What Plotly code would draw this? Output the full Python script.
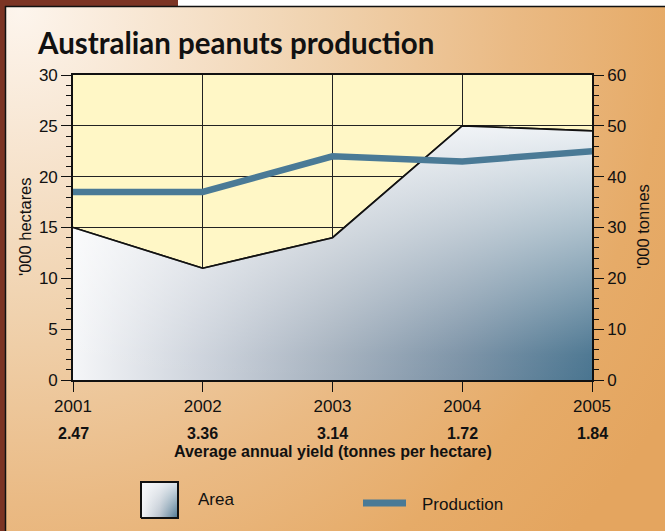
import base64
import plotly.graph_objects as go

# ---- data -------------------------------------------------------------
years = [2001, 2002, 2003, 2004, 2005]
area_kha = [15, 11, 14, 25, 24.5]          # '000 hectares (left axis)
production_kt = [37, 37, 44, 43, 45]       # '000 tonnes (right axis)
yield_labels = ["2.47", "3.36", "3.14", "1.72", "1.84"]
left_ticks = [0, 5, 10, 15, 20, 25, 30]
right_ticks = [0, 10, 20, 30, 40, 50, 60]

# ---- page geometry (pixels) ---------------------------------------------
W, H = 665, 531
PLOT_L, PLOT_R = 73, 592
PLOT_T, PLOT_B = 75, 380


def fx(px):
    return px / W


def fy(py):
    return 1 - py / H


FONT = "Liberation Sans, Arial, Helvetica, sans-serif"
TITLE_FONT = "Lato, Roboto, Liberation Sans, sans-serif"
LINE_BLUE = "#4a7a96"
AREA_SCALE = [[0, "#f5f6f8"], [0.25, "#cdd3dc"], [0.5, "#a6b2bf"],
              [0.75, "#7b92a6"], [1, "#4a7590"]]
HAZE_SCALE = [[0, "rgba(255,255,255,0)"], [0.1, "rgba(255,255,255,0.03)"],
              [0.32, "rgba(255,255,255,0.26)"], [0.6, "rgba(255,255,255,0.54)"],
              [1, "rgba(250,251,253,0.93)"]]

# warm radial backdrop for the whole page
bg_svg = f"""<svg xmlns="http://www.w3.org/2000/svg" width="{W}" height="{H}" viewBox="0 0 {W} {H}">
<defs><radialGradient id="g" gradientUnits="userSpaceOnUse" cx="20" cy="10" r="760">
<stop offset="0" stop-color="#fdf5ed"/><stop offset="0.4" stop-color="#f0d2ae"/>
<stop offset="0.65" stop-color="#eaba84"/><stop offset="0.85" stop-color="#e6ab68"/>
<stop offset="1" stop-color="#e4a55f"/></radialGradient></defs>
<rect width="{W}" height="{H}" fill="url(#g)"/></svg>"""
bg_src = "data:image/svg+xml;base64," + base64.b64encode(bg_svg.encode()).decode()

fig = go.Figure()

# area (left axis): horizontal blue ramp plus a vertical white haze
fig.add_trace(go.Scatter(
    x=years, y=area_kha, mode="lines", fill="tozeroy",
    line=dict(color="#111111", width=1.6),
    fillgradient=dict(type="horizontal", colorscale=AREA_SCALE),
    hoverinfo="skip", showlegend=False))
fig.add_trace(go.Scatter(
    x=years, y=area_kha, mode="none", fill="tozeroy",
    fillgradient=dict(type="vertical", colorscale=HAZE_SCALE, start=0, stop=max(area_kha)),
    hoverinfo="skip", showlegend=False))
# redraw the outline on top of the haze
fig.add_trace(go.Scatter(
    x=years, y=area_kha, mode="lines",
    line=dict(color="#111111", width=1.6),
    hoverinfo="skip", showlegend=False))

# production (right axis)
fig.add_trace(go.Scatter(
    x=years, y=production_kt, yaxis="y2", mode="lines",
    line=dict(color=LINE_BLUE, width=6.5),
    hoverinfo="skip", showlegend=False))

# legend swatch for the area series
pad = 2 / 37
sq_x = [0, 1, 1, 0, 0]
sq_y = [0, 0, 1, 1, 0]
fig.add_trace(go.Scatter(
    x=sq_x, y=sq_y, xaxis="x3", yaxis="y3", mode="none", fill="toself",
    fillgradient=dict(type="horizontal", colorscale=[[0, "#f2f3f6"], [0.5, "#b9c3ce"], [1, "#4a7590"]]),
    hoverinfo="skip", showlegend=False))
fig.add_trace(go.Scatter(
    x=sq_x, y=sq_y, xaxis="x3", yaxis="y3", mode="lines", fill="toself",
    line=dict(color="#111111", width=2),
    fillgradient=dict(type="vertical",
                      colorscale=[[0, "rgba(255,255,255,0)"], [1, "rgba(248,249,251,0.85)"]]),
    hoverinfo="skip", showlegend=False))

axis_font = dict(family=FONT, size=17, color="#111111")

fig.update_layout(
    width=W, height=H,
    margin=dict(l=0, r=0, t=0, b=0, pad=0, autoexpand=False),
    paper_bgcolor="white",
    plot_bgcolor="rgba(0,0,0,0)",
    showlegend=False,
    font=dict(family=FONT, color="#111111"),
    xaxis=dict(
        domain=[fx(PLOT_L), fx(PLOT_R)], anchor="y",
        range=[years[0], years[-1]],
        tickvals=years, ticktext=[str(y) for y in years],
        ticks="outside", ticklen=10, tickwidth=1.2, tickcolor="#111111",
        tickfont=axis_font, automargin=False,
        showline=True, linecolor="#111111", linewidth=1.6, mirror=True,
        showgrid=True, gridcolor="#222222", gridwidth=1, zeroline=False,
        fixedrange=True),
    yaxis=dict(
        domain=[fy(PLOT_B), fy(PLOT_T)], anchor="x",
        range=[left_ticks[0], left_ticks[-1]], tickvals=left_ticks,
        ticks="outside", ticklen=10, tickwidth=1.2, tickcolor="#111111",
        minor=dict(dtick=1, ticks="outside", ticklen=5, tickwidth=1,
                   tickcolor="#111111", showgrid=False),
        tickfont=axis_font, automargin=False,
        showline=True, linecolor="#111111", linewidth=1.6, mirror=True,
        showgrid=True, gridcolor="#222222", gridwidth=1, zeroline=False,
        fixedrange=True),
    yaxis2=dict(
        overlaying="y", side="right", anchor="x",
        range=[right_ticks[0], right_ticks[-1]], tickvals=right_ticks,
        ticks="outside", ticklen=10, tickwidth=1.2, tickcolor="#111111",
        minor=dict(dtick=2, ticks="outside", ticklen=5, tickwidth=1,
                   tickcolor="#111111", showgrid=False),
        tickfont=axis_font, automargin=False,
        showline=True, linecolor="#111111", linewidth=1.6,
        showgrid=False, zeroline=False, fixedrange=True),
    xaxis3=dict(domain=[fx(141 - 2), fx(178 + 2)], anchor="y3",
                range=[-pad, 1 + pad], visible=False, fixedrange=True),
    yaxis3=dict(domain=[fy(518 + 2), fy(482 - 2)], anchor="x3",
                range=[-pad, 1 + pad], visible=False, fixedrange=True),
)

fig.add_layout_image(dict(
    source=bg_src, xref="paper", yref="paper", x=0, y=1,
    sizex=1, sizey=1, xanchor="left", yanchor="top",
    sizing="stretch", layer="below"))

shapes = [
    # pale yellow plot panel
    dict(type="rect", xref="x domain", yref="y domain", x0=0, x1=1, y0=0, y1=1,
         fillcolor="#fff7c6", line=dict(width=0), layer="below"),
    # page frame
    dict(type="rect", xref="paper", yref="paper", x0=0, x1=fx(5), y0=0, y1=1,
         fillcolor="#7b3424", line=dict(width=0)),
    dict(type="rect", xref="paper", yref="paper", x0=0, x1=fx(178), y0=fy(6), y1=1,
         fillcolor="#7b3424", line=dict(width=0)),
    dict(type="rect", xref="paper", yref="paper", x0=fx(178), x1=1, y0=fy(6), y1=1,
         fillcolor="white", line=dict(width=0)),
    dict(type="line", xref="paper", yref="paper", x0=fx(5), x1=1, y0=fy(6.5), y1=fy(6.5),
         line=dict(color="#111111", width=1.5)),
    dict(type="line", xref="paper", yref="paper", x0=fx(5.5), x1=fx(5.5), y0=0, y1=fy(6),
         line=dict(color="#111111", width=1.5)),
    # legend key for production
    dict(type="line", xref="paper", yref="paper", x0=fx(363), x1=fx(406),
         y0=fy(503), y1=fy(503), line=dict(color=LINE_BLUE, width=7)),
]
fig.update_layout(shapes=shapes)


def note(text, px, py, size, **kw):
    d = dict(text=text, x=fx(px), y=fy(py), xref="paper", yref="paper",
             xanchor="center", yanchor="middle", showarrow=False,
             font=dict(family=kw.pop("family", FONT), size=size, color="#111111"))
    d.update(kw)
    return d


annotations = [
    note("<b>Australian peanuts production</b>", 35, 43, 29.5, xanchor="left",
         family=TITLE_FONT),
    note("'000 hectares", 25, 227, 16.5, textangle=-90),
    note("'000 tonnes", 643, 227, 16.5, textangle=-90),
    note("<b>Average annual yield (tonnes per hectare)</b>", (PLOT_L + PLOT_R) / 2, 451, 16),
    note("Area", 196, 500, 17, xanchor="left"),
    note("Production", 420, 504, 17, xanchor="left"),
]
for yr, lab in zip(years, yield_labels):
    annotations.append(dict(
        text=f"<b>{lab}</b>", x=yr, xref="x", y=fy(433), yref="paper",
        xanchor="center", yanchor="middle", showarrow=False,
        font=dict(family=FONT, size=16, color="#111111")))
fig.update_layout(annotations=annotations)

fig.write_html("out.html")
